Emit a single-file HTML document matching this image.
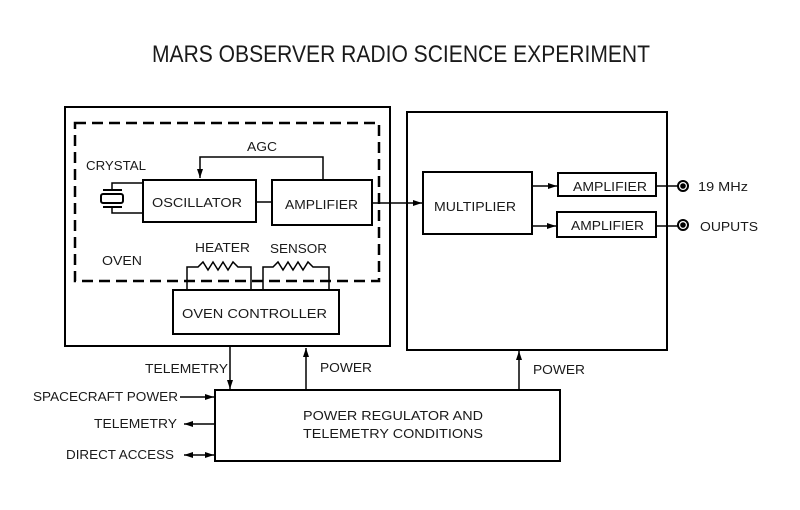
<!DOCTYPE html>
<html>
<head>
<meta charset="utf-8">
<style>
html,body{margin:0;padding:0;background:#fff;}
svg{display:block;}
text{font-family:"Liberation Sans",sans-serif;fill:#1a1a1a;}
</style>
</head>
<body>
<svg width="800" height="510" viewBox="0 0 800 510" xmlns="http://www.w3.org/2000/svg">
<defs>
<marker id="ah" markerWidth="10" markerHeight="8" refX="9" refY="4" orient="auto" markerUnits="userSpaceOnUse">
<path d="M0,1 L9,4 L0,7 Z" fill="#000"/>
</marker>
<marker id="ahs" markerWidth="10" markerHeight="8" refX="1" refY="4" orient="auto" markerUnits="userSpaceOnUse">
<path d="M10,1 L1,4 L10,7 Z" fill="#000"/>
</marker>
</defs>

<!-- Title -->
<text x="152" y="62" font-size="24" textLength="498" lengthAdjust="spacingAndGlyphs">MARS OBSERVER RADIO SCIENCE EXPERIMENT</text>

<g fill="none" stroke="#000" stroke-width="2">
  <!-- outer boxes -->
  <rect x="65" y="107" width="325" height="239"/>
  <rect x="407" y="112" width="260" height="238"/>
  <!-- dashed oven -->
  <rect x="75" y="123" width="304" height="158" stroke-dasharray="11,6" stroke-width="2.5"/>
  <!-- oscillator, amplifier -->
  <rect x="143" y="180" width="113" height="42"/>
  <rect x="272" y="180" width="100" height="45"/>
  <!-- oven controller -->
  <rect x="173" y="290" width="166" height="44"/>
  <!-- multiplier -->
  <rect x="423" y="172" width="109" height="62"/>
  <!-- amps right -->
  <rect x="558" y="173" width="98" height="23"/>
  <rect x="557" y="212" width="99" height="25"/>
  <!-- bottom box -->
  <rect x="215" y="390" width="345" height="71"/>
</g>

<g fill="none" stroke="#000" stroke-width="1.5">
  <!-- osc to amp -->
  <line x1="256" y1="202" x2="272" y2="202"/>
  <!-- AGC -->
  <polyline points="323,180 323,157 200,157 200,178" marker-end="url(#ah)"/>
  <!-- crystal leads -->
  <polyline points="143,183 112,183 112,190"/>
  <polyline points="143,213 112,213 112,207"/>
  <line x1="103" y1="190" x2="122" y2="190" stroke-width="2"/>
  <line x1="103" y1="207" x2="122" y2="207" stroke-width="2"/>
  <rect x="101" y="194" width="22" height="9" rx="2" stroke-width="2"/>
  <!-- heater -->
  <polyline points="187,290 187,267 198,267 203,262 208,270 213,262 218,270 223,262 228,270 233,262 238,267 251,267 251,290"/>
  <!-- sensor -->
  <polyline points="263,290 263,267 273,267 278,262 283,270 288,262 293,270 298,262 303,270 308,262 313,267 329,267 329,290"/>
  <!-- amp to multiplier -->
  <line x1="372" y1="203" x2="422" y2="203" marker-end="url(#ah)"/>
  <!-- multiplier to amps -->
  <line x1="532" y1="186" x2="557" y2="186" marker-end="url(#ah)"/>
  <line x1="532" y1="226" x2="556" y2="226" marker-end="url(#ah)"/>
  <!-- amp outputs -->
  <line x1="656" y1="186" x2="678" y2="186"/>
  <line x1="656" y1="226" x2="678" y2="226"/>
  <!-- bottom connections -->
  <line x1="230" y1="346" x2="230" y2="389" marker-end="url(#ah)"/>
  <line x1="306" y1="390" x2="306" y2="348" marker-end="url(#ah)"/>
  <line x1="519" y1="390" x2="519" y2="351" marker-end="url(#ah)"/>
  <line x1="180" y1="397" x2="214" y2="397" marker-end="url(#ah)"/>
  <line x1="215" y1="424" x2="184" y2="424" marker-end="url(#ah)"/>
  <line x1="184" y1="455" x2="214" y2="455" marker-start="url(#ahs)" marker-end="url(#ah)"/>
</g>

<!-- output connectors -->
<circle cx="683" cy="186" r="5" fill="#fff" stroke="#000" stroke-width="2"/>
<circle cx="683" cy="186" r="2.8" fill="#000"/>
<circle cx="683" cy="225" r="5" fill="#fff" stroke="#000" stroke-width="2"/>
<circle cx="683" cy="225" r="2.8" fill="#000"/>

<!-- labels -->
<g font-size="13">
<text x="247" y="151" textLength="30" lengthAdjust="spacingAndGlyphs">AGC</text>
<text x="86" y="170" textLength="60" lengthAdjust="spacingAndGlyphs">CRYSTAL</text>
<text x="152" y="207" textLength="90" lengthAdjust="spacingAndGlyphs">OSCILLATOR</text>
<text x="285" y="209" textLength="73" lengthAdjust="spacingAndGlyphs">AMPLIFIER</text>
<text x="195" y="252" textLength="55" lengthAdjust="spacingAndGlyphs">HEATER</text>
<text x="270" y="253" textLength="57" lengthAdjust="spacingAndGlyphs">SENSOR</text>
<text x="102" y="265" textLength="40" lengthAdjust="spacingAndGlyphs">OVEN</text>
<text x="182" y="318" textLength="145" lengthAdjust="spacingAndGlyphs">OVEN CONTROLLER</text>
<text x="434" y="211" textLength="82" lengthAdjust="spacingAndGlyphs">MULTIPLIER</text>
<text x="573" y="191" textLength="74" lengthAdjust="spacingAndGlyphs">AMPLIFIER</text>
<text x="571" y="230" textLength="73" lengthAdjust="spacingAndGlyphs">AMPLIFIER</text>
<text x="698" y="191" textLength="50" lengthAdjust="spacingAndGlyphs">19 MHz</text>
<text x="700" y="231" textLength="58" lengthAdjust="spacingAndGlyphs">OUPUTS</text>
<text x="145" y="373" textLength="83" lengthAdjust="spacingAndGlyphs">TELEMETRY</text>
<text x="320" y="372" textLength="52" lengthAdjust="spacingAndGlyphs">POWER</text>
<text x="533" y="374" textLength="52" lengthAdjust="spacingAndGlyphs">POWER</text>
<text x="33" y="401" textLength="145" lengthAdjust="spacingAndGlyphs">SPACECRAFT POWER</text>
<text x="94" y="428" textLength="83" lengthAdjust="spacingAndGlyphs">TELEMETRY</text>
<text x="66" y="459" textLength="108" lengthAdjust="spacingAndGlyphs">DIRECT ACCESS</text>
<text x="303" y="420" textLength="180" lengthAdjust="spacingAndGlyphs">POWER REGULATOR AND</text>
<text x="303" y="438" textLength="180" lengthAdjust="spacingAndGlyphs">TELEMETRY CONDITIONS</text>
</g>
</svg>
</body>
</html>
